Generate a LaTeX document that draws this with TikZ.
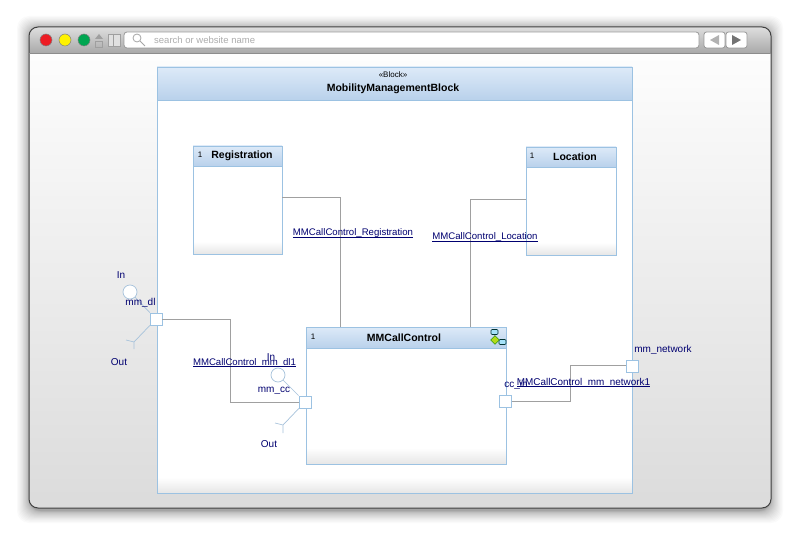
\documentclass[tikz,border=0pt]{standalone}
\usepackage{fontspec}
\setmainfont{Liberation Sans}
\usetikzlibrary{positioning,shapes.geometric,calc}
\definecolor{edgeblue}{HTML}{9CC2E2}
\definecolor{headtop}{HTML}{DDEAF8}
\definecolor{headbot}{HTML}{B9D1EB}
\definecolor{labelblue}{HTML}{000070}
\definecolor{linkgray}{HTML}{A0A0A0}
\definecolor{fadegray}{HTML}{E6E6E6}
\definecolor{chrome}{HTML}{A9A9A9}
\definecolor{stubblue}{HTML}{A6C2DB}
\newcommand{\linkname}[1]{\underline{\smash{#1}}}
\pgfdeclareverticalshading{partfade}{100bp}{color(0bp)=(fadegray); color(25bp)=(fadegray); color(32bp)=(white); color(100bp)=(white)}
\pgfdeclareverticalshading{blockfade}{100bp}{color(0bp)=(fadegray); color(25bp)=(fadegray); color(27bp)=(white); color(100bp)=(white)}

\begin{document}
\begin{tikzpicture}[x=1pt,y=-1pt,
    head/.style = {draw=edgeblue, line width=0.8pt, top color=headtop, bottom color=headbot, inner sep=0pt, outer sep=0pt},
    part/.style = {draw=edgeblue, line width=0.8pt, shading=partfade, inner sep=0pt, outer sep=0pt, anchor=north west},
    title/.style = {inner sep=0pt, font=\fontsize{10.5}{12}\selectfont\bfseries},
    port/.style = {draw=edgeblue, line width=0.8pt, fill=white, minimum size=12pt, inner sep=0pt},
    ball/.style = {draw=stubblue, line width=0.7pt, fill=white, circle, minimum size=14pt, inner sep=0pt},
    stub/.style = {draw=stubblue, line width=0.7pt},
    link/.style = {draw=linkgray, line width=1pt},
    txt/.style = {text=labelblue, font=\fontsize{10}{12}\selectfont, inner sep=0pt},
    linktxt/.style = {text=labelblue, font=\fontsize{9.6}{12}\selectfont, inner sep=0pt, anchor=base},
    num/.style = {font=\fontsize{8}{10}\selectfont, inner sep=0pt},
    lamp/.style = {circle, draw=gray, line width=0.5pt, minimum size=12pt, inner sep=0pt},
    minirect/.style = {draw=black!60!teal, line width=0.6pt, fill=cyan!35, rounded corners=1pt, minimum width=7pt, minimum height=5pt, inner sep=0pt},
    navbtn/.style = {draw=gray!80, line width=0.8pt, fill=white, rounded corners=2.5pt, minimum width=21pt, minimum height=16pt, inner sep=0pt}]
    % page and window
    \fill[white] (0,0) rectangle (800,537);
    \foreach \i in {1,...,20}
        \fill[black, opacity=0.02, rounded corners=12pt] ($(29,28)+(-\i*\i*0.03,-\i*\i*0.03)$) rectangle ($(771,511)+(\i*\i*0.03,\i*\i*0.03)$);
    \node[draw=none, top color=white, bottom color=black!14, minimum width=742pt, minimum height=481pt, rounded corners=9pt, inner sep=0pt] (win) at (400,267.5) {};
    \shade[top color=black!13, bottom color=chrome] (29,53) {[rounded corners=9pt] -- (29,27) -- (771,27)} -- (771,53) -- cycle;
    \draw[black!75, line width=1pt, rounded corners=9pt] (29,27) rectangle (771,508);
    \draw[black!45, line width=0.6pt] (29,53) -- (771,53);
    % toolbar
    \node[lamp, fill={rgb,255:red,237;green,28;blue,36}] (lampr) at (46,40) {};
    \node[lamp, fill={rgb,255:red,255;green,242;blue,0}] (lampy) [right=6.5pt of lampr] {};
    \node[lamp, fill={rgb,255:red,0;green,166;blue,81}] (lampg) [right=6.5pt of lampy] {};
    \fill[gray!75] (99,34) -- (103,39) -- (95,39) -- cycle;
    \draw[gray!75, line width=0.8pt] (95.5,41) rectangle (102.5,47);
    \draw[gray!75, fill=black!12, line width=0.8pt] (108.5,34) rectangle (120.5,46.5) (113,34) -- (113,46.5);
    \node[draw=gray!80, line width=0.8pt, fill=white, rounded corners=3pt, minimum width=575pt, minimum height=16pt, inner sep=0pt] (search) at (411.5,40) {};
    \node[anchor=west, inner sep=0pt, text=black!32, font=\fontsize{9.5}{12}\selectfont] (searchtxt) at (154,40.5) {search or website name};
    \draw[black!35, line width=0.8pt] (137,38) circle (4pt) (140,41) -- (145,46);
    \node[navbtn] (back) at (714.5,40) {};
    \node[navbtn] (fwd) at (736.5,40) {};
    \fill[gray!60] (710,40) -- (719,35) -- (719,45) -- cycle;
    \fill[black!55] (741,40) -- (732,35) -- (732,45) -- cycle;

    % block
    \node[part, shading=blockfade, minimum width=475pt, minimum height=393pt] (block) at (157,100) {};
    \node[head, minimum width=475pt, minimum height=33pt] (blockh) [above=0pt of block] {};
    \node[inner sep=0pt, font=\fontsize{8}{10}\selectfont] (stereo) at (393,75) {«Block»};
    \node[title] (blockname) at (393,89) {MobilityManagementBlock};

    % parts
    \node[part, minimum width=89pt, minimum height=88pt] (reg) at (193,166) {};
    \node[head, minimum width=89pt, minimum height=20pt] (regh) [above=0pt of reg] {};
    \node[num] (regn) at (200,155) {1};
    \node[title] (regname) at (242,156) {Registration};
    \node[part, minimum width=90pt, minimum height=88pt] (loc) at (526,167) {};
    \node[head, minimum width=90pt, minimum height=20pt] (loch) [above=0pt of loc] {};
    \node[num] (locn) at (532,156) {1};
    \node[title] (locname) at (575,157) {Location};
    \node[part, minimum width=200pt, minimum height=116pt] (ctrl) at (306,348) {};
    \node[head, minimum width=200pt, minimum height=21pt] (ctrlh) [above=0pt of ctrl] {};
    \node[num] (ctrln) at (313,337) {1};
    \node[title] (ctrlname) at (404,338) {MMCallControl};

    % decomposition icon
    \node[minirect] (icona) at (494.5,332) {};
    \node[minirect] (iconb) at (502.5,342) {};
    \node[diamond, draw=green!50!black, fill=yellow!70!green, minimum size=9pt, inner sep=0pt] (iconc) at (495,340) {};
    \draw[black!60, line width=0.5pt] (icona) -- (iconc) (iconc) -- (iconb);

    % ports
    \node[port] (mmdl) at (156,319) {};
    \node[port] (mmcc) at (305,402) {};
    \node[port] (ccin) at (505.5,401) {};
    \node[port] (mmnet) at (632,366) {};
    \node[ball] (dlin) at (130,292) {};
    \node[ball] (ccball) at (278,375) {};
    \coordinate (dlout) at (134,342);
    \coordinate (ccout) at (283,425);
    \coordinate (dlbend) at (230,319);
    \coordinate (ccbend) at (570,365);
    \coordinate (regbend) at (340,198);
    \coordinate (locbend) at (470,200);

    % connectors
    \draw[stub] (dlin) -- (mmdl) (mmdl) -- (dlout) -- +(-8,-2) (dlout) -- +(0,7);
    \draw[stub] (ccball) -- (mmcc) (mmcc) -- (ccout) -- +(-8,-2) (ccout) -- +(0,8);
    \draw[link] (reg.east |- regbend) -- (regbend) -- (ctrlh.north -| regbend);
    \draw[link] (loc.west |- locbend) -- (locbend) -- (ctrlh.north -| locbend);
    \draw[link] (mmdl.east) -- (dlbend) -- (dlbend |- mmcc) -- (mmcc.west);
    \draw[link] (ccin.east) -- (ccbend |- ccin) -- (ccbend) -- (mmnet.west |- ccbend);

    % labels
    \node[txt] (tin) at (121,275) {In};
    \node[txt] (tdl) at (140.5,303) {mm\_dl};
    \node[txt] (tout) at (119,362) {Out};
    \node[txt] (tin2) at (271,357) {In};
    \node[txt] (tcc) at (274,391) {mm\_cc};
    \node[txt] (tout2) at (269,444) {Out};
    \node[txt] (tccin) at (516,385) {cc\_in};
    \node[txt] (tnet) at (663,350) {mm\_network};
    \node[linktxt] (lreg) at (353,236) {\linkname{MMCallControl\_Registration}};
    \node[linktxt] (lloc) at (485,240) {\linkname{MMCallControl\_Location}};
    \node[linktxt] (ldl) at (244.5,365) {\linkname{MMCallControl\_mm\_dl1}};
    \node[linktxt, font=\fontsize{9.9}{12}\selectfont] (lnet) at (583.5,385) {\linkname{MMCallControl\_mm\_network1}};
\end{tikzpicture}
\end{document}
